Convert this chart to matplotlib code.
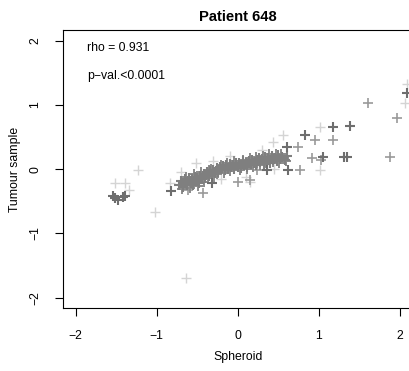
import matplotlib
matplotlib.use("Agg")
import matplotlib.pyplot as plt

plt.rcParams['font.family'] = ['Liberation Sans', 'DejaVu Sans']

# dense band of points (dark grey)
band_x = [-0.72, -0.70, -0.68, -0.66, -0.65, -0.63, -0.61, -0.60, -0.58, -0.56,
          -0.55, -0.53, -0.51, -0.50, -0.48, -0.46, -0.44, -0.42, -0.40, -0.38,
          -0.36, -0.34, -0.32, -0.30, -0.28, -0.26, -0.24, -0.22, -0.20, -0.18,
          -0.16, -0.14, -0.12, -0.10, -0.08, -0.06, -0.04, -0.02, 0.00, 0.02,
          0.04, 0.06, 0.08, 0.10, 0.12, 0.14, 0.16, 0.18, 0.20, 0.22,
          0.24, 0.26, 0.28, 0.30, 0.32, 0.34, 0.36, 0.38, 0.40, 0.42,
          0.44, 0.46, 0.48, 0.50, 0.52, 0.55, 0.58, 0.61]
band_y = [-0.24, -0.18, -0.28, -0.21, -0.15, -0.25, -0.19, -0.13, -0.22, -0.16,
          -0.24, -0.12, -0.19, -0.14, -0.21, -0.10, -0.16, -0.08, -0.13, -0.05,
          -0.11, -0.03, -0.08, -0.01, -0.06, 0.02, -0.04, 0.03, 0.00, 0.05,
          -0.02, 0.06, 0.01, 0.08, 0.03, 0.07, 0.00, 0.10, 0.04, 0.09,
          0.02, 0.12, 0.06, 0.10, 0.04, 0.13, 0.08, 0.15, 0.10, 0.06,
          0.14, 0.18, 0.11, 0.16, 0.08, 0.19, 0.13, 0.17, 0.10, 0.21,
          0.15, 0.18, 0.12, 0.22, 0.16, 0.19, 0.14, 0.20]

# second pass of the band, more spread
band2_x = [-0.69, -0.64, -0.59, -0.54, -0.49, -0.45, -0.41, -0.37, -0.33, -0.29,
           -0.25, -0.21, -0.17, -0.13, -0.09, -0.05, -0.01, 0.03, 0.07, 0.11,
           0.15, 0.19, 0.23, 0.27, 0.31, 0.35, 0.39, 0.43, 0.47, 0.51,
           0.54, 0.57, 0.60, -0.57, -0.35, -0.15, 0.05, 0.25, 0.45]
band2_y = [-0.31, -0.12, -0.29, -0.08, -0.26, -0.04, -0.20, -0.14, 0.00, -0.12,
           -0.07, 0.07, -0.06, 0.10, -0.03, 0.12, 0.06, -0.01, 0.15, 0.01,
           0.17, 0.03, 0.19, 0.07, 0.21, 0.09, 0.23, 0.11, 0.24, 0.10,
           0.23, 0.18, 0.12, -0.18, -0.02, 0.02, 0.08, 0.12, 0.17]

# other dark points
dark_x = [-1.51, -1.48, -1.54, -1.39, -1.42, -0.82, -0.32, 0.61, 0.83, 0.62,
          1.18, 1.39, 1.35, 1.31, 1.05, 2.09, 0.36]
dark_y = [-0.45, -0.48, -0.42, -0.41, -0.44, -0.34, -0.22, 0.34, 0.53, -0.02,
          0.66, 0.67, 0.19, 0.19, 0.19, 1.19, -0.02]

# mid grey points
mid_x = [1.97, 1.61, 1.18, 1.88, 0.75, 0.96, 0.77, 0.92, 0.15, 0.00,
         -0.43, -0.61, 1.03, 0.24]
mid_y = [0.80, 1.03, 0.45, 0.19, 0.34, 0.45, -0.02, 0.17, -0.17, -0.20,
         -0.37, -0.33, 0.14, -0.02]

# light grey points
light_x = [2.09, 2.07, -1.51, -1.39, -1.34, -1.23, -1.02, -0.83, -0.64, -0.52,
           0.44, 0.56, 0.15, 1.02, 1.02, -0.30, -0.10, 0.30, 0.10, -0.20,
           0.45, -0.70]
light_y = [1.33, 1.03, -0.22, -0.22, -0.33, -0.02, -0.67, -0.22, -1.69, 0.09,
           0.42, 0.53, -0.20, 0.66, -0.02, 0.12, 0.20, 0.30, -0.12, -0.15,
           0.00, -0.05]

fig = plt.figure(figsize=(4.10, 3.71), dpi=100)
ax = fig.add_axes([0.1544, 0.1698, 0.8507, 0.7483])

ax.plot(light_x, light_y, '+', color='#d4d4d4', ms=7, mew=1.0, ls='none')
ax.plot(mid_x, mid_y, '+', color='#9a9a9a', ms=7, mew=1.2, ls='none')
ax.plot(band2_x, band2_y, '+', color='#8a8a8a', ms=7, mew=1.4, ls='none')
ax.plot(band_x, band_y, '+', color='#7f7f7f', ms=7, mew=1.5, ls='none')
ax.plot(dark_x, dark_y, '+', color='#6e6e6e', ms=7, mew=1.5, ls='none')

ax.set_xlim(-2.153, 2.153)
ax.set_ylim(-2.16, 2.16)
ticks = [-2, -1, 0, 1, 2]
labels = ['\u22122', '\u22121', '0', '1', '2']
ax.set_xticks(ticks)
ax.set_xticklabels(labels)
ax.set_yticks(ticks)
ax.set_yticklabels(labels, rotation=90, va='center')
ax.tick_params(direction='out', length=6, width=0.8, labelsize=8.8, pad=10)
for s in ax.spines.values():
    s.set_linewidth(0.8)

ax.set_xlabel('Spheroid', fontsize=8.8, labelpad=6)
ax.set_ylabel('Tumour sample', fontsize=8.8, labelpad=6)
ax.set_title('Patient 648', fontsize=10.6, fontweight='bold', pad=7)

ax.text(-1.86, 1.88, 'rho = 0.931', fontsize=8.8, va='center', ha='left')
ax.text(-1.86, 1.45, 'p\u2212val.<0.0001', fontsize=8.8, va='center', ha='left')

fig.savefig('out.png', dpi=100)
